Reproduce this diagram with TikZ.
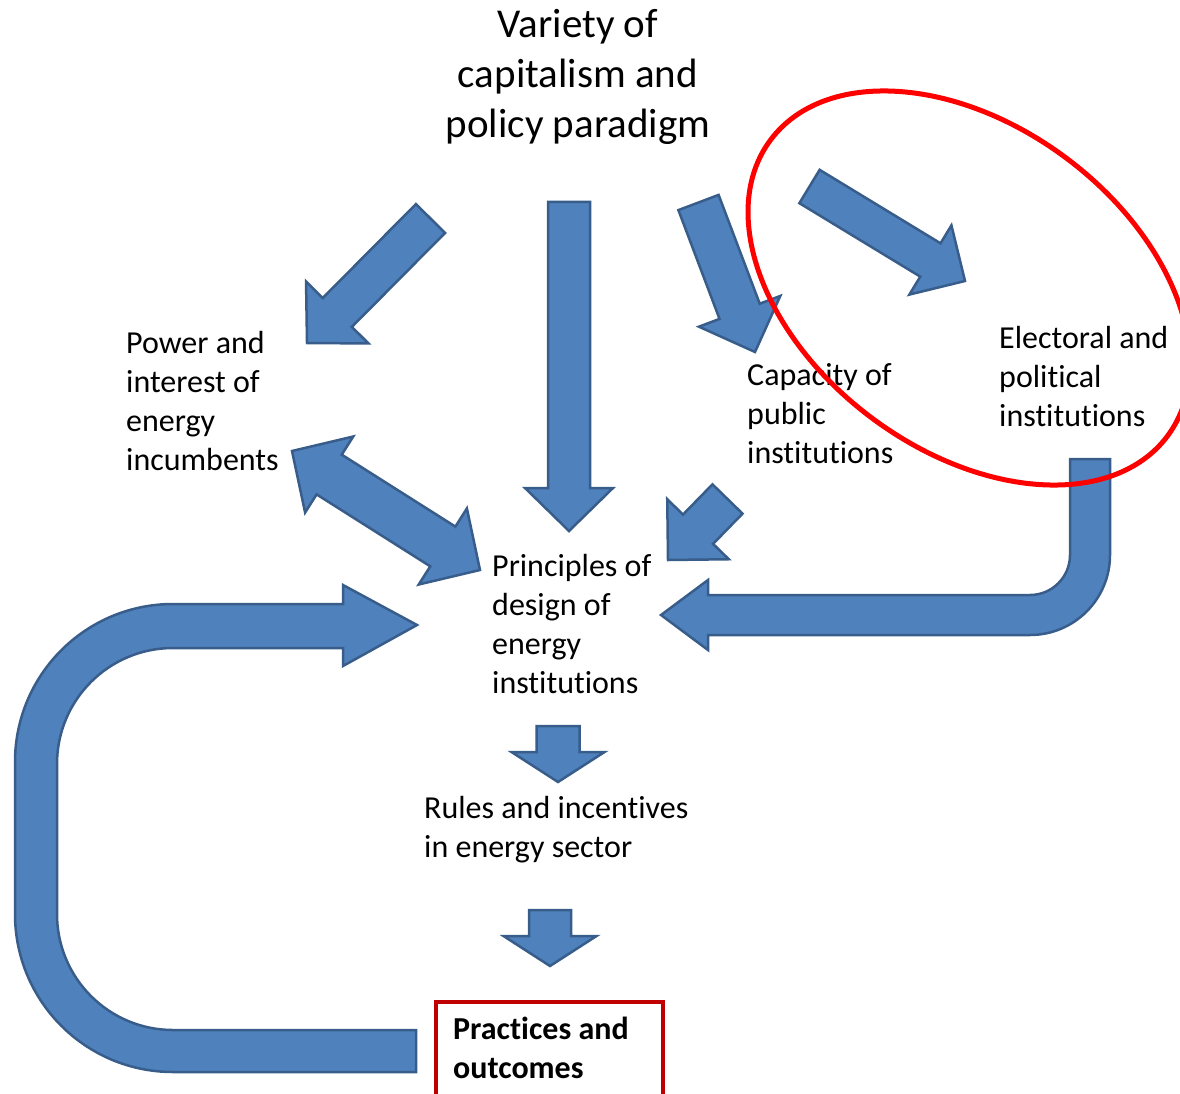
\documentclass[tikz,border=0pt]{standalone}
\usepackage{fontspec}
\setmainfont{Carlito}[RawFeature={-liga;-clig;-calt}]
\usetikzlibrary{calc}

\definecolor{arrowfill}{HTML}{4F81BD}
\definecolor{arrowline}{HTML}{385D8A}
\definecolor{boxred}{HTML}{C00000}
\definecolor{ringred}{HTML}{FF0000}

\tikzset{
  blockarrow/.style={fill=arrowfill, draw=arrowline, line width=2.5pt, line join=miter},
  lbl/.style={anchor=base west, inner sep=0pt, align=flush left, text width=300pt,
              font=\fontsize{32}{39}\selectfont},
  titletext/.style={anchor=base, inner sep=0pt, align=flush center, text width=420pt,
              font=\fontsize{41}{50}\selectfont},
  ring/.style={draw=ringred, line width=5pt},
  redbox/.style={draw=boxred, line width=4pt},
}

% straight block arrow: tail, tip, half shaft width, half head width, head length
\newcommand{\blkarrow}[5]{%
  \path ($(#2)!#5pt!(#1)$) coordinate (hbase);
  \path[blockarrow] ($(#1)!#3pt!90:(#2)$) -- ($(hbase)!#3pt!90:(#2)$)
    -- ($(hbase)!#4pt!90:(#2)$) -- (#2) -- ($(hbase)!#4pt!-90:(#2)$)
    -- ($(hbase)!#3pt!-90:(#2)$) -- ($(#1)!#3pt!-90:(#2)$) -- cycle;
}

\begin{document}
\begin{tikzpicture}[x=1pt, y=-1pt]
\useasboundingbox (0,0) rectangle (1180,1094);
\clip (0,0) rectangle (1180,1094);

% text blocks
\node[titletext] (title) at (578,38) {Variety of\\capitalism and\\policy paradigm};
\node[lbl] (power) at (126,353) {Power and\\interest of\\energy\\incumbents};
\node[lbl] (principles) at (492,576) {Principles of\\design of\\energy\\institutions};
\node[lbl] (capacity) at (747,385) {Capacity of\\public\\institutions};
\node[lbl] (electoral) at (999,348) {Electoral and\\political\\institutions};
\node[lbl] (rules) at (424,818) {Rules and incentives\\in energy sector};
\node[lbl, font=\fontsize{32}{39}\selectfont\bfseries] (practices) at (453,1039) {Practices and\\outcomes};
\draw[redbox] (436,1002) rectangle (663,1120);

% arrow ends
\coordinate (t1) at (430.5,218.5); \coordinate (p1) at (307,343);
\coordinate (t2) at (569,202);     \coordinate (p2) at (569,531);
\coordinate (t3) at (698.5,202.5); \coordinate (p3) at (755,352);
\coordinate (t4) at (809.5,186.5); \coordinate (p4) at (965,281);
\coordinate (t6) at (727.5,499);   \coordinate (p6) at (668,560);
\coordinate (t9) at (558,726);     \coordinate (p9) at (558,782);
\coordinate (t10) at (550,910);    \coordinate (p10) at (550,966);
\coordinate (dA) at (292,451);     \coordinate (dB) at (480,570);

% straight arrows
\blkarrow{t1}{p1}{20.5}{44}{43}
\blkarrow{t2}{p2}{21}{44}{43}
\blkarrow{t3}{p3}{21.5}{43.5}{43.5}
\blkarrow{t4}{p4}{19.5}{40.5}{40.5}
\blkarrow{t6}{p6}{21}{43}{43}
\blkarrow{t9}{p9}{21.5}{46.5}{30}
\blkarrow{t10}{p10}{21}{46.5}{30}

% two-headed arrow between incumbents and design principles
\path ($(dA)!44pt!(dB)$) coordinate (ha) ($(dB)!44pt!(dA)$) coordinate (hb);
\path[blockarrow] (dA) -- ($(ha)!45pt!90:(dB)$) -- ($(ha)!23.5pt!90:(dB)$)
  -- ($(hb)!23.5pt!-90:(dA)$) -- ($(hb)!45pt!-90:(dA)$) -- (dB)
  -- ($(hb)!45pt!90:(dA)$) -- ($(hb)!23.5pt!90:(dA)$)
  -- ($(ha)!23.5pt!-90:(dB)$) -- ($(ha)!45pt!-90:(dB)$) -- cycle;

% bent arrow from electoral institutions to design principles
\coordinate (jtip) at (661,615);
\path[blockarrow] (1070,459) -- (1110,459) -- (1110,555)
  .. controls (1110,599.2) and (1074.2,635) .. (1030,635)
  -- (708,635) -- (708,650) -- (jtip) -- (708,580) -- (708,595) -- (1030,595)
  .. controls (1052.1,595) and (1070,577.1) .. (1070,555) -- cycle;

% feedback loop from practices back to design principles
\coordinate (ltip) at (417,625);
\path[blockarrow] (343,648) -- (173,648)
  .. controls (108.9,648) and (57,699.9) .. (57,764)
  -- (57,914)
  .. controls (57,978.1) and (108.9,1030) .. (173,1030)
  -- (416,1030) -- (416,1072) -- (173,1072)
  .. controls (85.7,1072) and (15,1001.3) .. (15,914)
  -- (15,762)
  .. controls (15,674.7) and (85.7,604) .. (173,604)
  -- (343,604) -- (343,585) -- (ltip) -- (343,666) -- cycle;

% highlight ring round the electoral arrow
\draw[ring, rotate around={-36.7:(969,288)}] (969,288) ellipse [x radius=247.6pt, y radius=162.3pt];
\end{tikzpicture}
\end{document}
